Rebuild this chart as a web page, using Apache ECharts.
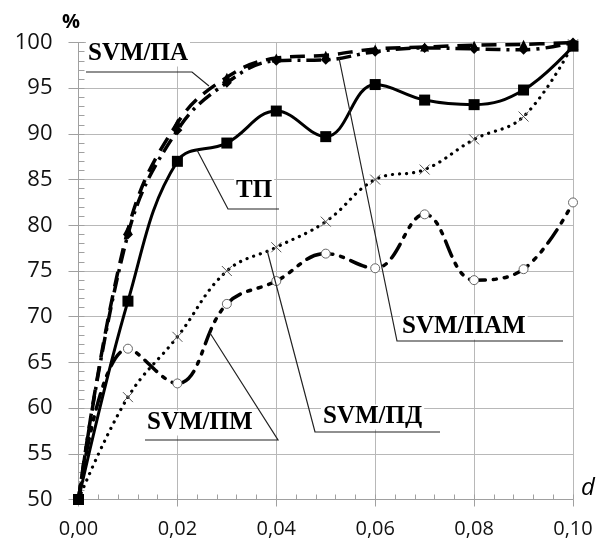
<!DOCTYPE html>
<html><head><meta charset="utf-8">
<script src="https://cdn.jsdelivr.net/npm/echarts@6/dist/echarts.min.js"></script>
<style>html,body{margin:0;padding:0;background:#fff}#c{width:597px;height:545px}</style>
</head><body><div id="c"></div>
<script>
// ---- data ----
const dValues = [0, 0.01, 0.02, 0.03, 0.04, 0.05, 0.06, 0.07, 0.08, 0.09, 0.10];
const seriesNames = ['SVM/ПА', 'SVM/ПАМ', 'ТП', 'SVM/ПД', 'SVM/ПМ'];
const svmPA  = [50, 79.5, 91.2, 96.2, 98.3, 98.6, 99.3, 99.5, 99.7, 99.8, 100];
const svmPAM = [50, 79.0, 90.4, 95.6, 98.0, 98.1, 99.0, 99.4, 99.3, 99.2, 100];
const tp     = [50, 71.7, 87.0, 89.0, 92.5, 89.7, 95.4, 93.7, 93.2, 94.8, 99.6];
const svmPD  = [50, 61.2, 67.8, 75.0, 77.6, 80.4, 85.0, 86.1, 89.4, 91.9, 99.8];
const svmPM  = [50, 66.5, 62.7, 71.4, 73.9, 76.9, 75.3, 81.2, 74.0, 75.2, 82.5];
const xTicks = [0, 0.02, 0.04, 0.06, 0.08, 0.10];
const yTicks = [50, 55, 60, 65, 70, 75, 80, 85, 90, 95, 100];

const pairs = arr => dValues.map((d, i) => [d, arr[i]]);

const chart = echarts.init(document.getElementById('c'), null, {renderer: 'canvas'});
const GRID = '#b8b8b8', AXIS = '#a0a0a0';
const labelFont = "'Open Sans', 'Noto Sans', sans-serif";

const crossPath = 'path://M0,0 L10,10 M10,0 L0,10';

const base = {type: 'line', smooth: 0.4, xAxisIndex: 0, yAxisIndex: 0, animation: false};

chart.setOption({
  animation: false,
  grid: {left: 78.5, right: 24, top: 42.5, bottom: 45.5},
  xAxis: [{
    type: 'value', min: 0, max: 0.1, interval: 0.02,
    axisLine: {show: true, lineStyle: {color: AXIS, width: 1}},
    axisTick: {show: true, length: 7, lineStyle: {color: AXIS}},
    splitLine: {show: true, lineStyle: {color: GRID, width: 1}},
    axisLabel: {margin: 20, fontSize: 20, color: '#111', fontFamily: labelFont,
      formatter: v => v.toFixed(2).replace('.', ',')}
  }, {
    type: 'value', min: 0, max: 0.1, interval: 0.004, position: 'bottom', gridIndex: 0,
    axisLine: {show: false}, splitLine: {show: false}, axisLabel: {show: false},
    axisTick: {show: true, inside: true, length: 5, lineStyle: {color: AXIS}}
  }],
  yAxis: [{
    type: 'value', min: 50, max: 100, interval: 5,
    axisLine: {show: true, lineStyle: {color: AXIS, width: 1}},
    axisTick: {show: true, length: 10, lineStyle: {color: AXIS}},
    splitLine: {show: true, lineStyle: {color: GRID, width: 1}},
    axisLabel: {margin: 26, fontSize: 22, color: '#111', fontFamily: labelFont}
  }, {
    type: 'value', min: 50, max: 100, interval: 1, position: 'left', gridIndex: 0,
    axisLine: {show: false}, splitLine: {show: false}, axisLabel: {show: false},
    axisTick: {show: true, inside: true, length: 6, lineStyle: {color: AXIS}}
  }],
  series: [
    Object.assign({}, base, {name: seriesNames[4], data: pairs(svmPM), z: 2,
      lineStyle: {color: '#000', width: 3.5, type: [16, 8, 3, 8, 3, 8], cap: 'round'},
      symbol: 'circle', symbolSize: 9,
      itemStyle: {color: '#fff', borderColor: '#666', borderWidth: 1}}),
    Object.assign({}, base, {name: seriesNames[3], data: pairs(svmPD), z: 3,
      lineStyle: {color: '#000', width: 3.2, type: [0.1, 7], cap: 'round'},
      symbol: crossPath, symbolSize: 10,
      itemStyle: {color: 'rgba(0,0,0,0)', borderColor: '#555', borderWidth: 1}}),
    Object.assign({}, base, {name: seriesNames[2], data: pairs(tp), z: 4,
      lineStyle: {color: '#000', width: 3},
      symbol: 'rect', symbolSize: 11, itemStyle: {color: '#000'}}),
    Object.assign({}, base, {name: seriesNames[0], data: pairs(svmPA), z: 5,
      lineStyle: {color: '#000', width: 3.5, type: [15, 9]},
      symbol: 'triangle', symbolSize: 9, itemStyle: {color: '#000'}}),
    Object.assign({}, base, {name: seriesNames[1], data: pairs(svmPAM), z: 6,
      lineStyle: {color: '#000', width: 3.5, type: [15, 6, 3, 6]},
      symbol: 'diamond', symbolSize: 10, itemStyle: {color: '#000'}})
  ],
  graphic: (function () {
    const g = [];
    const lbl = (text, x, y) => g.push({type: 'text', z: 50, style: {
      text: text, x: x, y: y, textAlign: 'left', textVerticalAlign: 'middle',
      font: "bold 25px 'Liberation Serif', 'DejaVu Serif', serif", fill: '#000',
      backgroundColor: '#fff', padding: [0, 2, 0, 2]}});
    const line = pts => g.push({type: 'polyline', z: 49, shape: {points: pts},
      style: {stroke: '#222', lineWidth: 1.2, fill: null}});
    // SVM/ПА
    lbl('SVM/ПА', 86, 54);
    line([[86, 72], [192, 72], [209, 86]]);
    // ТП
    lbl('ТП', 234, 191);
    line([[197, 150], [228, 209], [279, 209]]);
    // SVM/ПАМ
    lbl('SVM/ПАМ', 400, 327);
    line([[339, 58], [397, 341], [563, 341]]);
    // SVM/ПМ
    lbl('SVM/ПМ', 145, 423);
    line([[210, 333], [278, 440], [145, 440]]);
    // SVM/ПД
    lbl('SVM/ПД', 321, 417);
    line([[267, 250], [315, 432], [440, 432]]);
    // axis names
    g.push({type: 'text', style: {text: '%', x: 71, y: 22, textAlign: 'center', textVerticalAlign: 'middle',
      font: "bold 20px 'Open Sans', sans-serif", fill: '#000'}});
    g.push({type: 'text', style: {text: 'd', x: 588, y: 488, textAlign: 'center', textVerticalAlign: 'middle',
      font: "italic 24px 'Open Sans', sans-serif", fill: '#000'}});
    return g;
  })()
});
</script></body></html>
